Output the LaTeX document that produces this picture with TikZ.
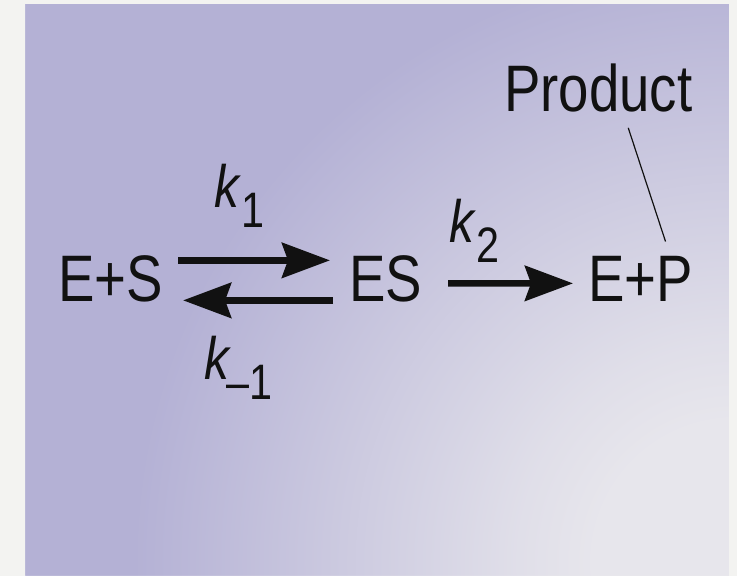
\documentclass[tikz,border=0pt]{standalone}
\usepackage{fontspec}
\setmainfont{Liberation Sans}[FakeStretch=0.83]
\usepackage{xcolor}
\usetikzlibrary{arrows.meta}

\definecolor{frame}{RGB}{243,243,241}
\definecolor{lav}{RGB}{180,177,213}
\definecolor{glow}{RGB}{231,230,236}
\definecolor{ink}{RGB}{17,17,17}

\pgfdeclareradialshading{cornerglow}{\pgfpoint{0bp}{0bp}}{%
  color(0bp)=(glow); color(5bp)=(glow); color(8bp)=(glow!85!lav);
  color(21.5bp)=(lav); color(25bp)=(lav); color(50bp)=(lav)}

\newcommand{\rate}[1]{\textit{k}\raisebox{-20bp}{\fontsize{50}{50}\selectfont #1}}

\begin{document}
\begin{tikzpicture}[
  x=1bp, y=1bp,
  >={Stealth[length=48bp, width=35bp, inset=6bp]},
  chem/.style={anchor=base west, inner sep=0pt, text=ink, font=\fontsize{66}{66}\selectfont},
  ratelbl/.style={anchor=base west, inner sep=0pt, text=ink, font=\fontsize{60}{60}\selectfont},
  rxn/.style={->, line width=6.5bp, draw=ink},
  pointer/.style={draw=ink, line width=1.2bp}
]
\begin{scope}
  \clip (25,0) rectangle (729,572);
  \fill[lav] (25,0) rectangle (729,572);
  \shade[shading=cornerglow] (735,14) circle (700);
\end{scope}
\fill[frame, even odd rule] (0,0) rectangle (737,576) (25,0) rectangle (729,572);
\node[chem] (free)    at (58,274)  {E+S};
\node[chem] (cplx)    at (349,274) {ES};
\node[chem] (prodsum) at (588,274) {E+P};
\node[chem] (prod)    at (504,464) {Product};
\node[ratelbl] (kf)   at (214,368) {\rate{1}};
\node[ratelbl] (kr)   at (204,196) {\rate{\kern-5bp\textendash1}};
\node[ratelbl] (kcat) at (449,333) {\rate{2}};
\draw[rxn] ([xshift=15bp,yshift=19bp]free.east) -- ([xshift=-19bp,yshift=19bp]cplx.west);
\draw[rxn] ([xshift=-16bp,yshift=-21bp]cplx.west) -- ([xshift=20bp,yshift=-21bp]free.east);
\draw[rxn] ([xshift=26bp,yshift=-4bp]cplx.east) -- ([xshift=-15bp,yshift=-4bp]prodsum.west);
\draw[pointer] ([xshift=30bp,yshift=-15bp]prod.south) -- ([xshift=25bp,yshift=15bp]prodsum.north);
\end{tikzpicture}
\end{document}
